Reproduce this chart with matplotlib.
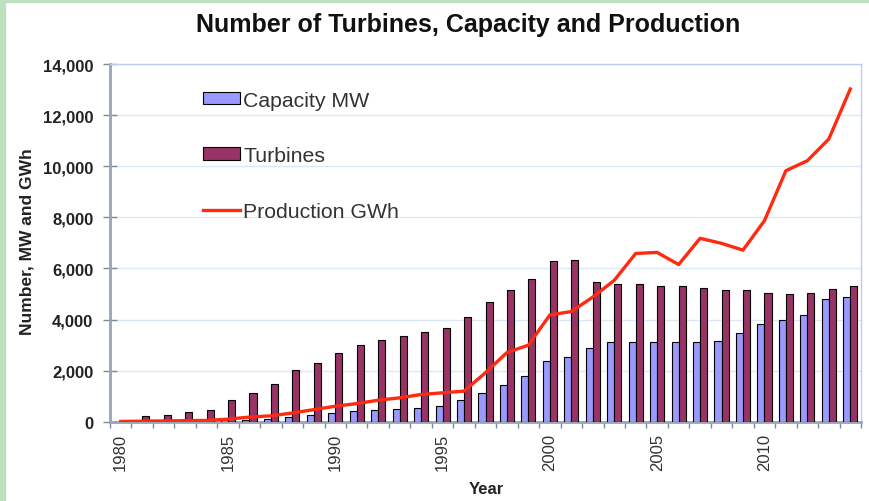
import numpy as np
import matplotlib
matplotlib.use("Agg")
import matplotlib.pyplot as plt
import matplotlib.patches as patches
import matplotlib.ticker as ticker

plt.rcParams["font.family"] = ["Liberation Sans", "DejaVu Sans"]

# Data
years = list(range(1980, 2015))
capacity_mw = [3, 7, 12, 20, 24, 50, 82, 115, 197, 262,
               341, 408, 460, 495, 530, 620, 830, 1140, 1430, 1780,
               2380, 2520, 2900, 3120, 3125, 3125, 3130, 3125, 3170, 3480,
               3810, 3980, 4170, 4820, 4900]
turbines = [40, 210, 276, 368, 473, 841, 1130, 1459, 2011, 2287,
            2681, 3010, 3207, 3365, 3497, 3667, 4113, 4680, 5166, 5600,
            6283, 6310, 5468, 5402, 5402, 5297, 5297, 5245, 5140, 5140,
            5047, 4994, 5034, 5192, 5297]
production_gwh = [10, 20, 30, 40, 50, 100, 180, 230, 340, 473,
                  605, 710, 841, 934, 1065, 1131, 1196, 1919, 2708, 2997,
                  4180, 4311, 4877, 5533, 6585, 6625, 6151, 7177, 6980, 6716,
                  7867, 9824, 10215, 11064, 13021]
label_years = [1980, 1985, 1990, 1995, 2000, 2005, 2010]

fig = plt.figure(figsize=(8.7, 5.02), dpi=100)
ax = fig.add_axes([110 / 870, 1 - 422.7 / 502, 751 / 870, 357.7 / 502])

x = np.arange(len(years))
w = 0.33
b1 = ax.bar(x - w / 2, capacity_mw, w, color="#9999ff", edgecolor="black",
            linewidth=0.8, zorder=3)
b2 = ax.bar(x + w / 2, turbines, w, color="#993366", edgecolor="black",
            linewidth=0.8, zorder=3)
l1, = ax.plot(x, production_gwh, color="#ff2a10", linewidth=2.4, zorder=4)

ax.set_xlim(-0.5, len(years) - 0.5)
ax.set_ylim(0, 14000)

# y axis
ax.yaxis.set_major_locator(ticker.MultipleLocator(2000))
ax.yaxis.set_major_formatter(ticker.FuncFormatter(lambda v, p: f"{int(v):,}"))
ax.tick_params(axis="y", direction="inout", length=10, width=1,
               color="#7f8a99", labelsize=12, pad=7, labelcolor="#222222")
for lab in ax.get_yticklabels():
    lab.set_fontweight("bold")
ax.grid(axis="y", color="#dce8f6", linewidth=1, zorder=0)

# x axis: labels at every 5th year, tick marks at category boundaries
ax.set_xticks([years.index(y) for y in label_years])
ax.set_xticklabels([str(y) for y in label_years], rotation=90)
ax.set_xticks(np.arange(-0.5, len(years)), minor=True)
ax.tick_params(axis="x", which="major", length=0, labelsize=12,
               labelcolor="#333333", pad=8)
ax.tick_params(axis="x", which="minor", length=4, width=1, color="#7f8a99")

for s in ["left", "bottom"]:
    ax.spines[s].set_color("#9aa4b4")
    ax.spines[s].set_linewidth(2)
for s in ["top", "right"]:
    ax.spines[s].set_color("#b8cfee")
    ax.spines[s].set_linewidth(1)

fig.text(486 / 870, 1 - 490 / 502, "Year", ha="center", va="center",
         fontsize=12, fontweight="bold", color="#222222")
fig.text(27 / 870, 1 - 242 / 502, "Number, MW and GWh", ha="center",
         va="center", rotation=90, fontsize=12.5, fontweight="bold",
         color="#222222")

leg = ax.legend([b1, b2, l1], ["Capacity MW", "Turbines", "Production GWh"],
                loc="upper left", bbox_to_anchor=(0.124, 0.925), frameon=False,
                fontsize=15.3, labelspacing=1.71, handlelength=1.74,
                handleheight=0.52, handletextpad=0.14, borderaxespad=0,
                borderpad=0)
for t in leg.get_texts():
    t.set_color("#333333")

fig.text(468 / 870, 1 - 25 / 502, "Number of Turbines, Capacity and Production",
         ha="center", va="center", fontsize=18, fontweight="bold",
         color="#111111")

# green frame strips on the left and top of the picture
fig.patches.append(patches.Rectangle((0, 0), 5 / 870, 1, transform=fig.transFigure,
                                     color="#bfe0bf", zorder=0))
fig.patches.append(patches.Rectangle((0, 1 - 3 / 502), 1, 3 / 502,
                                     transform=fig.transFigure,
                                     color="#bfe0bf", zorder=0))

fig.savefig("out.png", dpi=100)
